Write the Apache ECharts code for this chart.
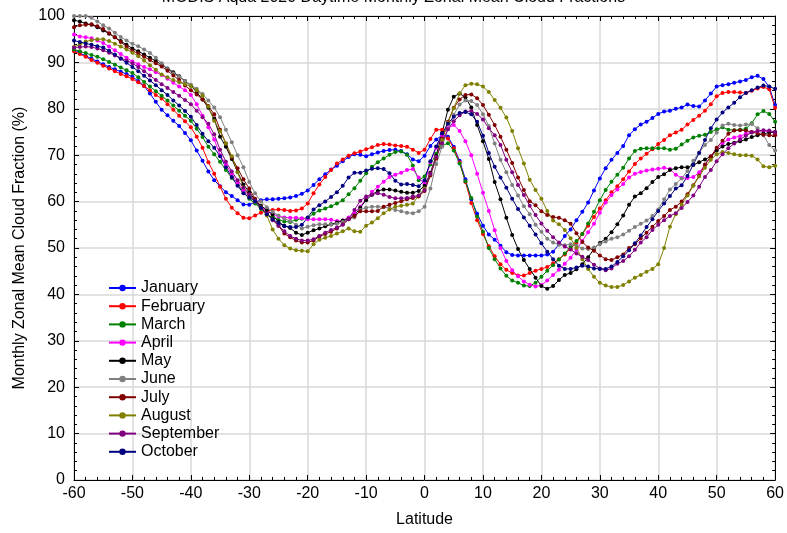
<!DOCTYPE html>
<html>
<head>
<meta charset="utf-8">
<script src="https://cdn.jsdelivr.net/npm/echarts@6/dist/echarts.min.js"></script>
<style>
  html, body { margin: 0; padding: 0; background: #fff; }
  #chart { width: 787px; height: 533px; }
</style>
</head>
<body>
<div id="chart"></div>
<script>
// latitude of every sample (degrees)
var lats = [-60,-59,-58,-57,-56,-55,-54,-53,-52,-51,-50,-49,-48,-47,-46,-45,-44,-43,-42,-41,
  -40,-39,-38,-37,-36,-35,-34,-33,-32,-31,-30,-29,-28,-27,-26,-25,-24,-23,-22,-21,
  -20,-19,-18,-17,-16,-15,-14,-13,-12,-11,-10,-9,-8,-7,-6,-5,-4,-3,-2,-1,
  0,1,2,3,4,5,6,7,8,9,10,11,12,13,14,15,16,17,18,19,
  20,21,22,23,24,25,26,27,28,29,30,31,32,33,34,35,36,37,38,39,
  40,41,42,43,44,45,46,47,48,49,50,51,52,53,54,55,56,57,58,59,60];

var january = [92.7,92.0,91.4,90.8,90.2,89.6,89.0,88.5,88.0,87.5,
  86.9,86.0,84.9,83.3,81.5,79.8,78.6,77.4,76.3,74.8,
  73.2,71.0,68.8,66.5,64.6,63.3,62.0,61.2,60.3,59.4,
  59.3,59.9,60.3,60.5,60.5,60.6,60.7,60.9,61.2,61.7,
  62.4,63.6,64.8,65.9,66.9,67.7,68.7,69.6,70.2,70.1,
  69.8,70.2,70.6,70.9,71.1,71.2,70.9,70.2,69.1,68.7,
  69.9,72.0,73.4,74.3,74.0,71.8,68.8,64.8,60.5,57.4,
  54.8,52.9,51.8,50.5,49.1,48.5,48.4,48.4,48.4,48.4,
  48.4,48.6,49.2,50.8,52.6,54.0,56.0,57.8,59.8,62.4,
  65.0,67.2,69.0,70.5,72.0,74.3,75.6,76.6,77.2,78.0,
  78.9,79.4,79.6,80.0,80.3,80.9,80.6,80.5,81.8,83.3,
  84.8,85.1,85.3,85.6,85.9,86.2,86.8,87.1,86.4,84.7,
  80.8];
var february = [92.4,91.8,91.2,90.5,89.9,89.3,88.7,88.1,87.5,87.0,
  86.4,85.7,84.9,84.0,83.0,82.2,81.0,79.8,78.5,77.3,
  76.0,74.0,71.6,68.5,66.0,63.2,60.6,58.7,57.5,56.5,
  56.4,57.0,57.6,58.0,58.2,58.3,58.2,58.0,58.1,58.5,
  59.6,61.8,63.7,65.3,66.8,68.2,69.1,69.9,70.4,70.8,
  71.3,71.7,72.2,72.4,72.3,72.1,72.0,71.8,71.2,70.5,
  71.2,73.5,75.5,75.5,73.6,71.5,68.5,64.2,59.7,56.0,
  53.0,50.4,48.2,46.5,45.3,44.6,44.1,44.1,44.6,45.1,
  45.5,45.9,46.7,47.6,48.6,49.9,51.1,53.0,54.8,56.7,
  58.5,60.3,62.0,63.3,64.8,66.5,68.1,69.3,70.3,71.3,
  72.4,73.3,74.3,74.9,75.5,76.6,77.6,78.5,79.6,81.0,
  82.7,83.4,83.6,83.6,83.5,83.4,83.9,84.4,84.7,84.2,
  80.2];
var march = [92.8,92.4,92.0,91.6,91.2,90.7,90.1,89.5,88.9,88.3,
  87.7,86.8,85.8,84.8,83.8,82.8,81.8,80.7,79.6,78.5,
  77.4,75.7,73.9,71.8,70.2,68.6,66.8,65.1,63.6,62.1,
  60.6,59.6,58.4,57.2,56.6,56.1,55.7,55.6,56.1,56.3,
  56.5,57.4,58.1,58.5,59.0,59.6,60.3,61.6,62.9,64.5,
  66.1,67.5,68.5,69.3,70.1,70.7,70.8,70.1,67.8,64.6,
  65.4,68.0,70.3,72.0,72.6,71.0,68.2,64.4,60.8,56.8,
  53.5,50.0,47.6,45.6,44.0,43.0,42.5,41.9,41.8,42.5,
  43.8,45.1,46.3,47.5,48.8,50.3,51.5,53.0,55.3,57.8,
  60.3,62.5,64.3,65.8,67.3,69.3,70.9,71.4,71.5,71.5,
  71.5,71.5,71.2,71.4,72.3,73.1,73.8,74.2,74.4,75.0,
  75.6,76.0,75.5,75.4,75.5,75.7,76.9,78.8,79.5,78.9,
  77.2];
var april = [96.0,95.6,95.4,95.2,94.7,94.2,93.4,92.6,91.8,91.0,
  90.2,89.6,89.0,88.5,87.9,87.3,86.5,85.6,84.8,84.0,
  83.0,81.0,78.5,76.0,73.4,70.0,68.0,65.9,64.0,62.4,
  61.2,60.0,59.0,57.9,57.3,56.8,56.6,56.5,56.5,56.4,
  56.2,56.2,56.2,56.2,56.1,55.8,55.9,56.6,57.6,58.9,
  60.6,62.1,63.2,64.3,65.3,65.8,66.2,66.8,67.0,65.2,
  63.8,68.5,71.6,74.2,75.8,76.5,75.2,73.0,70.0,66.0,
  61.9,58.0,53.8,50.0,47.2,45.2,43.9,42.8,42.1,41.7,
  42.0,43.0,44.2,45.3,46.6,47.9,49.6,51.5,53.4,55.2,
  57.6,59.8,61.4,62.6,63.8,65.2,66.0,66.4,66.7,66.9,
  67.1,67.3,67.0,65.8,65.1,65.1,65.3,66.3,67.9,69.7,
  71.3,72.6,73.4,73.8,74.1,74.6,75.0,75.2,75.2,75.1,
  74.7];
var may = [99.1,98.8,98.4,98.1,97.6,96.9,96.2,95.4,94.6,93.8,
  93.0,92.4,91.7,91.0,90.3,89.5,88.7,87.9,87.0,86.0,
  85.0,83.6,82.0,80.2,77.8,74.0,71.8,69.2,66.4,63.7,
  62.0,60.4,59.1,58.2,57.2,55.6,54.8,54.3,53.3,52.8,
  53.3,53.8,54.2,54.7,55.1,55.5,55.9,56.3,57.0,58.7,
  60.3,61.5,62.3,62.6,62.6,62.4,62.1,61.9,61.9,62.3,
  63.4,66.2,69.9,74.8,79.8,82.6,83.3,82.5,80.3,76.5,
  73.0,69.2,64.2,60.5,56.5,52.8,49.8,47.4,45.5,43.6,
  41.8,41.2,41.8,43.1,44.2,44.6,45.4,46.5,48.0,49.8,
  51.1,52.0,53.4,55.1,57.0,59.3,61.1,61.8,62.9,64.2,
  65.3,65.9,66.8,67.2,67.4,67.4,67.9,68.5,69.1,69.7,
  71.0,71.9,72.4,72.7,73.0,73.4,73.9,74.3,74.6,74.9,
  75.0];
var june = [100,100,100,99.6,98.8,98.0,97.3,96.4,95.5,94.7,
  94.0,93.5,92.8,92.0,91.0,89.8,88.6,87.6,86.9,86.0,
  85.2,84.3,83.2,81.8,80.3,78.2,75.5,72.8,70.0,67.4,
  64.2,61.8,60.0,58.8,57.8,57.0,56.3,55.8,55.0,54.2,
  54.6,54.9,55.1,55.1,55.0,55.2,55.6,56.2,56.6,58.2,
  58.7,58.9,58.9,58.8,58.6,58.2,57.9,57.6,57.5,57.9,
  58.9,62.8,68.1,71.8,75.6,78.7,80.9,81.8,81.7,80.8,
  78.8,76.3,72.5,69.0,66.3,63.6,61.3,59.0,57.3,55.0,
  53.5,52.0,51.2,50.7,50.6,50.8,50.5,49.9,49.8,50.1,
  50.8,51.4,52.0,52.3,52.9,53.7,54.5,55.2,55.9,56.9,
  58.3,60.5,62.6,63.8,65.0,66.6,68.8,70.6,72.2,73.3,
  74.9,76.4,76.8,76.5,76.4,76.6,76.7,75.8,74.3,72.2,
  71.0];
var july = [97.6,98.0,98.1,98.2,97.8,97.2,96.3,95.4,94.4,93.4,
  92.5,91.9,91.2,90.5,89.8,89.1,88.2,87.2,86.2,85.0,
  84.0,83.1,82.0,80.6,78.8,75.5,72.5,69.5,67.2,64.8,
  62.8,60.6,58.8,57.4,56.2,54.8,53.1,52.3,51.6,51.2,
  51.2,51.6,52.5,53.0,53.5,54.2,55.1,56.2,56.9,57.9,
  57.9,57.9,58.0,58.9,59.3,59.7,60.1,60.5,60.8,61.1,
  62.3,65.6,69.3,73.6,77.2,80.2,82.0,83.0,83.1,82.3,
  80.8,78.7,76.5,74.0,71.2,68.3,65.2,62.5,60.1,59.2,
  57.9,57.1,56.7,56.5,56.0,55.2,53.2,51.3,50.1,49.4,
  48.4,47.6,47.4,48.0,48.6,50.0,50.8,52.1,53.3,54.6,
  55.8,56.9,58.2,58.9,60.0,61.6,63.5,65.6,68.0,69.7,
  71.6,73.1,74.6,75.3,75.4,75.3,75.0,74.7,74.4,74.3,
  74.3];
var august = [93.3,93.9,94.5,94.8,95.0,95.0,94.6,94.0,93.4,92.8,
  92.1,91.3,90.4,89.4,88.4,87.4,86.8,86.2,85.7,85.3,
  84.9,84.0,82.8,80.5,77.4,75.2,72.5,69.8,66.3,63.1,
  61.3,60.0,58.8,57.0,54.0,52.0,50.6,49.9,49.5,49.4,
  49.3,50.8,51.8,52.2,52.6,53.1,53.6,54.2,53.6,53.5,
  54.8,55.5,56.4,57.5,58.3,58.9,59.1,59.3,59.6,61.3,
  62.8,66.0,69.6,73.3,77.0,80.1,83.3,85.1,85.4,85.3,
  84.8,83.6,81.9,80.2,78.1,75.2,71.5,68.2,64.7,62.5,
  60.6,58.0,55.9,55.1,53.9,52.1,50.0,47.6,45.5,43.8,
  42.5,41.9,41.6,41.6,42.0,42.8,43.6,44.2,44.9,45.5,
  46.5,50.0,54.6,57.3,59.4,61.3,63.4,65.4,67.3,69.0,
  70.2,70.7,70.5,70.2,70.0,70.0,69.9,69.1,67.6,67.4,
  67.7];
var september = [93.2,93.3,93.4,93.3,93.0,92.6,92.1,91.5,90.9,90.4,
  89.8,89.0,88.1,87.2,86.2,85.3,84.5,83.6,82.8,81.9,
  81.0,79.6,78.2,76.8,74.5,71.2,68.6,66.5,64.6,63.0,
  61.6,60.2,58.7,57.4,56.0,54.8,53.6,52.6,52.0,51.6,
  51.6,51.9,52.6,53.3,53.9,54.4,55.0,56.2,58.2,60.2,
  61.1,61.5,61.8,61.5,61.0,60.7,60.7,60.8,61.1,61.3,
  62.5,66.0,69.6,72.6,75.6,77.3,78.6,79.4,79.5,78.9,
  77.7,75.8,74.3,72.2,69.0,66.3,63.6,61.4,59.1,57.1,
  55.3,53.7,52.3,51.2,50.3,49.7,48.8,48.1,47.4,46.4,
  45.6,45.2,45.6,46.6,47.2,48.2,49.6,51.2,52.3,53.9,
  55.0,56.0,56.9,57.5,58.6,59.9,61.3,63.2,65.3,66.8,
  68.7,70.2,71.5,72.5,73.4,74.2,74.9,75.2,75.4,75.3,
  75.0];
var october = [94.7,94.4,94.1,93.8,93.5,93.2,92.5,91.7,90.8,89.9,
  89.0,88.1,87.1,86.1,85.1,84.0,83.0,81.8,80.7,79.5,
  78.3,76.5,74.6,73.0,71.6,69.8,67.4,65.3,63.4,61.8,
  60.9,60.0,58.7,57.3,56.2,55.4,54.7,54.5,54.5,55.0,
  56.6,58.3,59.2,60.0,61.0,62.0,63.4,65.2,66.2,66.2,
  66.7,67.1,67.2,67.0,66.1,64.5,63.7,63.8,63.6,63.3,
  64.6,68.7,71.9,74.7,76.8,78.3,79.1,79.3,78.8,77.2,
  74.2,70.5,67.5,65.2,63.0,60.6,58.4,56.6,54.8,52.9,
  51.0,49.2,47.6,46.2,45.5,45.5,45.8,46.2,46.0,45.6,
  45.5,45.5,46.0,47.0,48.2,49.5,51.0,52.7,54.5,56.2,
  58.0,59.6,61.2,62.8,63.5,65.5,68.0,70.5,73.3,75.8,
  77.7,79.2,80.3,81.3,82.5,83.4,84.0,84.6,85.0,84.8,
  84.3];

var monthNames = ['January','February','March','April','May','June','July','August','September','October'];
var monthData = [january, february, march, april, may, june, july, august, september, october];
var monthColors = ['#0000ff','#ff0000','#008000','#ff00ff','#000000','#808080','#800000','#808000','#800080','#000080'];

var xTicks = { min: -60, max: 60, interval: 10 };
var yTicks = { min: 0, max: 100, interval: 10 };

var font = 'Liberation Sans, Arial, sans-serif';

var chart = echarts.init(document.getElementById('chart'));

var series = monthNames.map(function (name, k) {
  return {
    name: name,
    type: 'line',
    xAxisIndex: 0,
    yAxisIndex: 0,
    data: lats.map(function (lat, i) { return [lat, monthData[k][i]]; }),
    symbol: 'circle',
    symbolSize: 4,
    showSymbol: true,
    color: monthColors[k],
    lineStyle: { width: 1, color: monthColors[k] },
    itemStyle: { color: monthColors[k] },
    emphasis: { disabled: true }
  };
});

function xAxisBase(pos, showLabels) {
  return {
    type: 'value',
    position: pos,
    min: xTicks.min, max: xTicks.max, interval: xTicks.interval,
    axisLine: { show: true, onZero: false, lineStyle: { color: '#000', width: 1 } },
    axisTick: { show: true, inside: true, length: 5, lineStyle: { color: '#000' } },
    minorTick: { show: true, splitNumber: 5, length: 3, lineStyle: { color: '#000' } },
    axisLabel: { show: showLabels, color: '#000', fontSize: 16, fontFamily: font, margin: 6 },
    splitLine: { show: showLabels, lineStyle: { color: '#d9d9d9', width: 1.5 } }
  };
}
function yAxisBase(pos, showLabels) {
  return {
    type: 'value',
    position: pos,
    min: yTicks.min, max: yTicks.max, interval: yTicks.interval,
    axisLine: { show: true, onZero: false, lineStyle: { color: '#000', width: 1 } },
    axisTick: { show: true, inside: true, length: 5, lineStyle: { color: '#000' } },
    minorTick: { show: true, splitNumber: 5, length: 3, lineStyle: { color: '#000' } },
    axisLabel: { show: showLabels, color: '#000', fontSize: 16, fontFamily: font, margin: 9 },
    splitLine: { show: showLabels, lineStyle: { color: '#d9d9d9', width: 1.5 } }
  };
}

var xBottom = xAxisBase('bottom', true);
xBottom.name = 'Latitude';
xBottom.nameLocation = 'middle';
xBottom.nameGap = 32;
xBottom.nameTextStyle = { color: '#000', fontSize: 16, fontFamily: font };

var yLeft = yAxisBase('left', true);
yLeft.name = 'Monthly Zonal Mean Cloud Fraction (%)';
yLeft.nameLocation = 'middle';
yLeft.nameGap = 44;
yLeft.nameTextStyle = { color: '#000', fontSize: 16, fontFamily: font };

chart.setOption({
  animation: false,
  backgroundColor: '#fff',
  title: {
    text: 'MODIS Aqua 2020 Daytime Monthly Zonal Mean Cloud Fractions',
    left: 'center',
    top: -15,
    textStyle: { color: '#000', fontSize: 16, fontWeight: 'normal', fontFamily: font }
  },
  grid: { left: 74, right: 11, top: 16, bottom: 49, containLabel: false },
  legend: {
    orient: 'vertical',
    left: 103,
    top: 275,
    itemWidth: 27,
    itemHeight: 8,
    itemGap: 2.2,
    data: monthNames,
    textStyle: { color: '#000', fontSize: 16, fontFamily: font, lineHeight: 16 }
  },
  xAxis: [xBottom, xAxisBase('top', false)],
  yAxis: [yLeft, yAxisBase('right', false)],
  series: series
});
</script>
</body>
</html>
